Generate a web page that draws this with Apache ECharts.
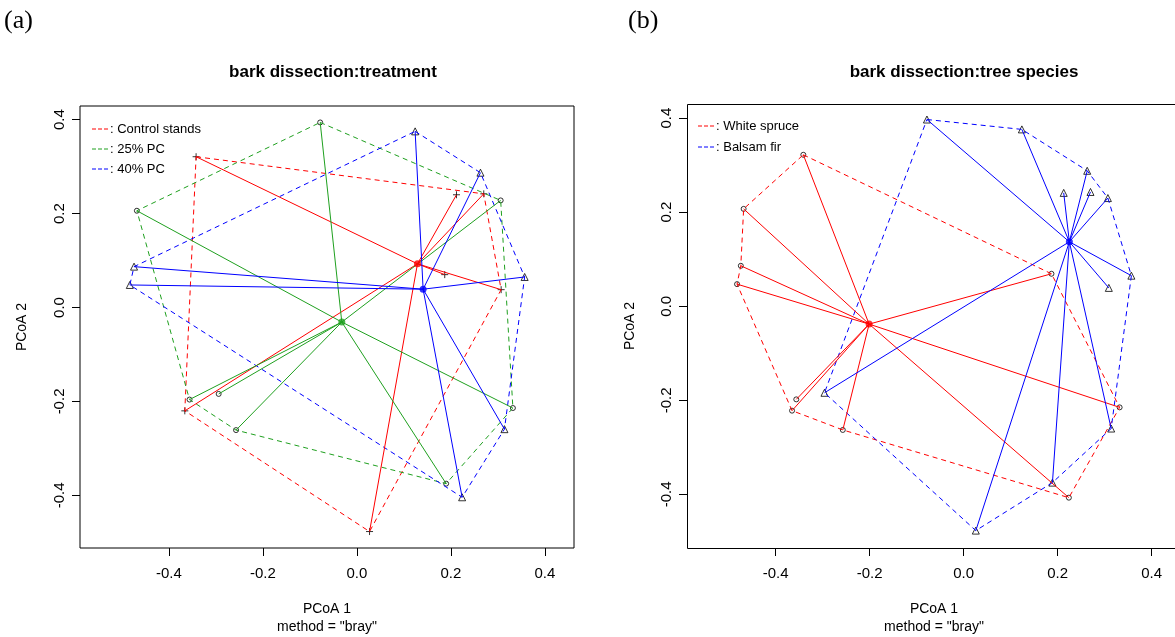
<!DOCTYPE html>
<html>
<head>
<meta charset="utf-8">
<script src="https://cdn.jsdelivr.net/npm/echarts@6/dist/echarts.min.js"></script>
<style>
html,body{margin:0;padding:0;background:#fff;}
#chart{width:1175px;height:637px;}
</style>
</head>
<body>
<div id="chart"></div>
<script>
// ---------- Data: panel (a) treatment ----------
const ctrlX = [-0.342, 0.212, 0.270, 0.187, 0.307, -0.366, 0.027];
const ctrlY = [0.321, 0.240, 0.242, 0.070, 0.038, -0.220, -0.477];
const ctrlCentroid = [0.129, 0.093];
const ctrlHull = [0, 2, 4, 6, 5, 0];

const pc25X = [-0.078, 0.306, -0.468, -0.356, -0.294, -0.257, 0.332, 0.190];
const pc25Y = [0.394, 0.228, 0.206, -0.196, -0.184, -0.261, -0.214, -0.375];
const pc25Centroid = [-0.032, -0.031];
const pc25Hull = [0, 1, 6, 7, 5, 3, 2, 0];

const pc40X = [0.124, 0.263, -0.474, -0.483, 0.357, 0.314, 0.224];
const pc40Y = [0.375, 0.287, 0.087, 0.048, 0.065, -0.259, -0.404];
const pc40Centroid = [0.141, 0.039];
const pc40Hull = [0, 1, 4, 5, 6, 3, 2, 0];

// ---------- Data: panel (b) tree species ----------
const spruceX = [-0.341, -0.468, -0.474, -0.482, 0.187, -0.356, -0.365, -0.257, 0.332, 0.224];
const spruceY = [0.322, 0.207, 0.086, 0.047, 0.069, -0.198, -0.222, -0.263, -0.215, -0.407];
const spruceCentroid = [-0.201, -0.038];
const spruceHull = [0, 4, 8, 9, 7, 6, 3, 2, 1, 0];

const firX = [-0.078, 0.124, 0.263, 0.213, 0.270, 0.307, 0.357, 0.309, 0.314, 0.189, 0.026, -0.296];
const firY = [0.397, 0.376, 0.288, 0.241, 0.243, 0.230, 0.065, 0.039, -0.260, -0.375, -0.477, -0.184];
const firCentroid = [0.225, 0.137];
const firHull = [0, 1, 2, 5, 6, 8, 9, 10, 11, 0];

const tickValues = [-0.4, -0.2, 0.0, 0.2, 0.4];
const titleA = 'bark dissection:treatment';
const titleB = 'bark dissection:tree species';
const legendA = [': Control stands', ': 25% PC', ': 40% PC'];
const legendB = [': White spruce', ': Balsam fir'];

// ---------- Styling ----------
const RED = '#FF0000', GREEN = '#1FA01F', BLUE = '#0000FF';
const SANS = '"Liberation Sans", Arial, Helvetica, sans-serif';
const SERIF = '"Liberation Serif", "Times New Roman", serif';
const PLUS = 'path://M5,0L5,10M0,5L10,5';

function pts(xs, ys) { return xs.map((x, i) => [x, ys[i]]); }

function groupSeries(xs, ys, cen, hull, color, symbol, size, gi) {
  const p = pts(xs, ys);
  return [
    { type: 'scatter', xAxisIndex: gi, yAxisIndex: gi, data: p, symbol: symbol, symbolSize: size,
      itemStyle: { color: 'none', borderColor: '#000', borderWidth: 1 }, z: 2, silent: true },
    { type: 'line', xAxisIndex: gi, yAxisIndex: gi, data: hull.map(i => p[i]), symbol: 'none',
      lineStyle: { color: color, width: 1, type: [5, 4] }, z: 3, silent: true },
    { type: 'lines', coordinateSystem: 'cartesian2d', xAxisIndex: gi, yAxisIndex: gi,
      data: p.map(q => ({ coords: [cen, q] })),
      lineStyle: { color: color, width: 1, opacity: 1, curveness: 0 }, z: 4, silent: true },
    { type: 'scatter', xAxisIndex: gi, yAxisIndex: gi, data: [cen], symbol: 'circle', symbolSize: 7,
      itemStyle: { color: color }, z: 5, silent: true }
  ];
}

const fmt = v => (Math.abs(v) < 1e-9 ? 0 : v).toFixed(1);

function xAxisCfg(gi, min, max) {
  return {
    type: 'value', gridIndex: gi, min: min, max: max,
    axisLine: { show: false, onZero: false }, splitLine: { show: false },
    axisTick: { show: true, customValues: tickValues, length: 8, lineStyle: { color: '#000', width: 1 } },
    axisLabel: { show: true, customValues: tickValues, margin: 18, color: '#000', fontSize: 15, fontFamily: SANS, formatter: fmt }
  };
}
function yAxisCfg(gi, min, max) {
  return {
    type: 'value', gridIndex: gi, min: min, max: max,
    axisLine: { show: false, onZero: false }, splitLine: { show: false },
    axisTick: { show: true, customValues: tickValues, length: 8, lineStyle: { color: '#000', width: 1 } },
    axisLabel: { show: true, customValues: tickValues, rotate: 90, margin: 13, color: '#000', fontSize: 15, fontFamily: SANS, formatter: fmt }
  };
}

function legendGraphics(x0, y0, step, labels, colors) {
  const out = [];
  labels.forEach((t, i) => {
    const y = y0 + i * step;
    out.push({ type: 'line', shape: { x1: x0, y1: y, x2: x0 + 16, y2: y },
      style: { stroke: colors[i], lineWidth: 1, lineDash: [4, 2] }, silent: true });
    out.push({ type: 'text', x: x0 + 18, y: y,
      style: { text: t, fill: '#000', font: '13px ' + SANS, textAlign: 'left', textVerticalAlign: 'middle' }, silent: true });
  });
  return out;
}

function txt(text, x, y, font, rot) {
  return { type: 'text', x: x, y: y, rotation: rot || 0,
    style: { text: text, fill: '#000', font: font, textAlign: 'center', textVerticalAlign: 'middle' }, silent: true };
}

// Panel (b): plot area reaches the right edge of the picture; its frame is cut off there
const gridA = { left: 80, top: 106, width: 494, height: 442 };
const gridB = { left: 687, top: 104, width: 488, height: 444 };

const chart = echarts.init(document.getElementById('chart'), null, { renderer: 'canvas' });
chart.setOption({
  animation: false,
  backgroundColor: '#fff',
  grid: [
    Object.assign({ show: true, borderColor: '#000', borderWidth: 1, backgroundColor: 'transparent' }, gridA),
    Object.assign({ show: false }, gridB)
  ],
  xAxis: [xAxisCfg(0, -0.589, 0.462), xAxisCfg(1, -0.5885, 0.4498)],
  yAxis: [yAxisCfg(0, -0.512, 0.429), yAxisCfg(1, -0.514, 0.430)],
  series: [].concat(
    groupSeries(ctrlX, ctrlY, ctrlCentroid, ctrlHull, RED, PLUS, 7, 0),
    groupSeries(pc25X, pc25Y, pc25Centroid, pc25Hull, GREEN, 'circle', 5, 0),
    groupSeries(pc40X, pc40Y, pc40Centroid, pc40Hull, BLUE, 'triangle', 7, 0),
    groupSeries(spruceX, spruceY, spruceCentroid, spruceHull, RED, 'circle', 5, 1),
    groupSeries(firX, firY, firCentroid, firHull, BLUE, 'triangle', 7, 1)
  ),
  graphic: [].concat(
    [
      { type: 'rect', shape: { x: 687.5, y: 104.5, width: 520, height: 444 },
        style: { fill: 'none', stroke: '#000', lineWidth: 1 }, silent: true, z: 1 },
      { type: 'text', x: 4, y: 21, style: { text: '(a)', fill: '#000', font: '26px ' + SERIF, textAlign: 'left', textVerticalAlign: 'middle' }, silent: true },
      { type: 'text', x: 628, y: 21, style: { text: '(b)', fill: '#000', font: '26px ' + SERIF, textAlign: 'left', textVerticalAlign: 'middle' }, silent: true },
      txt(titleA, 333, 72, 'bold 17px ' + SANS),
      txt(titleB, 964, 72, 'bold 17px ' + SANS),
      txt('PCoA 1', 327, 609, '14px ' + SANS),
      txt('method = "bray"', 327, 627, '14px ' + SANS),
      txt('PCoA 1', 934, 609, '14px ' + SANS),
      txt('method = "bray"', 934, 627, '14px ' + SANS),
      txt('PCoA 2', 22, 327, '14px ' + SANS, Math.PI / 2),
      txt('PCoA 2', 630, 326, '14px ' + SANS, Math.PI / 2)
    ],
    legendGraphics(92, 129, 20, legendA, [RED, GREEN, BLUE]),
    legendGraphics(698, 126, 21, legendB, [RED, BLUE])
  )
});
</script>
</body>
</html>
